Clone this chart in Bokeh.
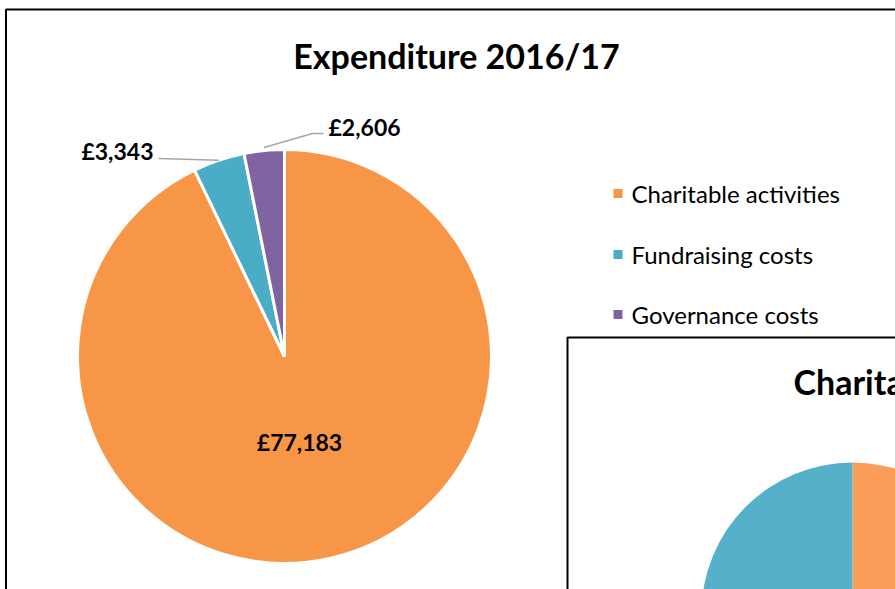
import math
from bokeh.plotting import figure
from bokeh.models import Range1d, ColumnDataSource
from bokeh.core.properties import value
from bokeh.embed import file_html
from bokeh.resources import INLINE

# ---------------- data ----------------
categories = ["Charitable activities", "Fundraising costs", "Governance costs"]
amounts = [77183, 3343, 2606]
labels = ["£77,183", "£3,343", "£2,606"]
colors = ["#F79646", "#4BACC6", "#8064A2"]
title_main = "Expenditure 2016/17"

# second (partly hidden) chart, only its start is visible
title_second = "Charita"
second_categories = ["Part A", "Part B"]
second_values = [50, 50]
second_colors = ["#FA9D58", "#56B0C9"]

# ---------------- canvas ----------------
W, H = 895, 589


def Y(py):
    # picture pixel row -> data y
    return H - py


p = figure(width=W, height=H, output_backend="svg", toolbar_location=None,
           x_range=Range1d(0, W), y_range=Range1d(0, H),
           min_border=0, outline_line_color=None)
p.axis.visible = False
p.grid.visible = False
p.background_fill_color = "white"
p.border_fill_color = "white"

# main chart frame
p.quad(left=[5.5], right=[1100], top=[Y(9)], bottom=[Y(800)],
       fill_color=None, line_color="black", line_width=2)

p.text(x=[456], y=[Y(55)], text=[title_main], text_font=value("Lato"),
       text_font_style="bold", text_font_size="34px", text_align="center",
       text_baseline="middle", text_color="black")

# main pie
cx, cy, r = 284, Y(356), 207
total = float(sum(amounts))
starts, ends, mids = [], [], []
cum = 0.0
for a in amounts:
    f0 = cum / total
    cum += a
    f1 = cum / total
    starts.append(math.pi / 2 - 2 * math.pi * f0)
    ends.append(math.pi / 2 - 2 * math.pi * f1)
    mids.append(math.pi / 2 - 2 * math.pi * (f0 + f1) / 2)

src = ColumnDataSource(dict(start=starts, end=ends, color=colors, cat=categories))
p.wedge(x=cx, y=cy, radius=r, start_angle="start", end_angle="end",
        direction="clock", fill_color="color", line_color="white",
        line_width=3, source=src)

# labels
font_lbl = value("Lato")
p.text(x=[299], y=[Y(441)], text=[labels[0]], text_font=font_lbl,
       text_font_style="bold", text_font_size="23px", text_align="center",
       text_baseline="middle", text_color="black")

# Fundraising label with leader
ax = cx + r * math.cos(mids[1])
ay = cy + r * math.sin(mids[1])
p.line(x=[158, ax], y=[Y(158), ay], line_color="#A6A6A6", line_width=1.5)
p.text(x=[153], y=[Y(150)], text=[labels[1]], text_font=font_lbl,
       text_font_style="bold", text_font_size="23px", text_align="right",
       text_baseline="middle", text_color="black")

# Governance label with leader
bx = cx + (r + 3) * math.cos(mids[2])
by = cy + (r + 3) * math.sin(mids[2])
p.line(x=[bx, 312, 323], y=[by, Y(133), Y(133)], line_color="#A6A6A6", line_width=1.5)
p.text(x=[328], y=[Y(126)], text=[labels[2]], text_font=font_lbl,
       text_font_style="bold", text_font_size="23px", text_align="left",
       text_baseline="middle", text_color="black")

# legend
leg_y = [193, 254, 314]
p.rect(x=[617.5] * 3, y=[Y(v) for v in leg_y], width=9, height=9,
       fill_color=colors, line_color=None)
p.text(x=[631] * 3, y=[Y(v) for v in leg_y], text=categories,
       text_font=value("Lato"), text_font_size="24px", text_align="left",
       text_baseline="middle", text_color="black")

# second chart (overlapping)
p.quad(left=[567], right=[1200], top=[Y(337)], bottom=[Y(900)],
       fill_color="white", line_color="black", line_width=2)
p.text(x=[793], y=[Y(381)], text=[title_second], text_font=value("Lato"),
       text_font_style="bold", text_font_size="34px", text_align="left",
       text_baseline="middle", text_color="black")

cx2, cy2, r2 = 852, Y(613), 151
tot2 = float(sum(second_values))
s2, e2 = [], []
cum = 0.0
for v in second_values:
    s2.append(math.pi / 2 - 2 * math.pi * cum / tot2)
    cum += v
    e2.append(math.pi / 2 - 2 * math.pi * cum / tot2)
p.wedge(x=cx2, y=cy2, radius=r2, start_angle=s2, end_angle=e2,
        direction="clock", fill_color=second_colors, line_color=None)

open("out.html", "w").write(file_html(p, INLINE))
